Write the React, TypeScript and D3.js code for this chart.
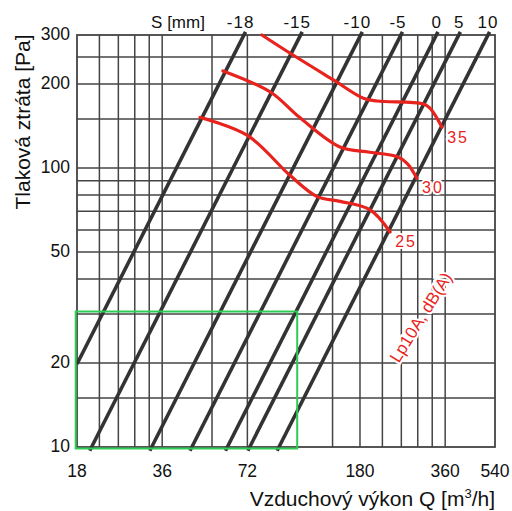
import React from "react";
import * as d3 from "d3";

const W = 512;
const H = 511;

// Axis ticks
const xTicks = [18, 36, 72, 180, 360, 540];
const yTicks = [10, 20, 50, 100, 200, 300];
// Grid lines (vertical in l/s, converted to m3/h)
const gridLs = [6, 7, 8, 9, 10, 15, 20, 40, 50, 60, 70, 80, 90, 100];
const gridPa = [15, 20, 30, 40, 50, 60, 70, 80, 90, 100, 150, 200, 250];
// Damper setting lines: S [mm] and flow (m3/h) at 300 Pa, P ~ Q^2
const sValues = [-18, -15, -10, -5, 0, 5, 10];
const qAt300 = [70, 111, 181, 251, 335, 402, 510];
// Noise curves Lp10A dB(A)
const noiseLevels = [35, 30, 25];
const noise35: [number, number][] = [[81, 300], [102, 258], [145, 207], [185, 178], [207, 174], [300, 170], [318, 164], [351, 140]];
const noise30: [number, number][] = [[59, 223], [87, 187], [110, 152], [153, 119], [195, 114], [243, 110], [264, 104], [286, 92]];
const noise25: [number, number][] = [[49, 152], [72, 131], [102, 94], [127, 79], [153, 76], [195, 71], [230, 59]];
const noiseCurves = [noise35, noise30, noise25];
// Highlighted range
const greenQ = [18, 108];
const greenP = [10, 30.6];

const FONT = "'Liberation Sans', Arial, Helvetica, sans-serif";
const GRID = "#444";
const RED = "#e8231e";

export default function App() {
  const x = d3.scaleLog().domain([18, 540]).range([77, 495]);
  const y = d3.scaleLog().domain([10, 300]).range([447, 35]);
  const line = d3
    .line<[number, number]>()
    .x((d) => x(d[0]))
    .y((d) => y(d[1]))
    .curve(d3.curveCatmullRom.alpha(0.5));

  const diag = qAt300.map((q300, i) => {
    const pLo = 9.7;
    const pHi = 308;
    let qLo = q300 * Math.sqrt(pLo / 300);
    let qHi = q300 * Math.sqrt(pHi / 300);
    qLo = Math.max(18, qLo);
    qHi = Math.min(540, qHi);
    const p1 = 300 * (qLo / q300) ** 2;
    const p2 = 300 * (qHi / q300) ** 2;
    return { s: sValues[i], x1: x(qLo), y1: y(p1), x2: x(qHi), y2: y(p2), xt: x(q300) };
  });

  const fs = 17;
  return (
    <svg width={W} height={H} style={{ position: "absolute", left: 0, top: 0, background: "#fff" }} fontFamily={FONT}>
      <rect x={0} y={0} width={W} height={H} fill="#fff" />
      {/* grid */}
      {gridLs.map((v) => (
        <line key={"v" + v} x1={x(v * 3.6)} x2={x(v * 3.6)} y1={y(10)} y2={y(300)} stroke={GRID} strokeWidth={1.5} />
      ))}
      {gridPa.map((v) => (
        <line key={"h" + v} x1={x(18)} x2={x(540)} y1={y(v)} y2={y(v)} stroke={GRID} strokeWidth={1.5} />
      ))}
      <rect x={x(18)} y={y(300)} width={x(540) - x(18)} height={y(10) - y(300)} fill="none" stroke={GRID} strokeWidth={1.8} />
      {/* diagonals */}
      {diag.map((d) => (
        <line key={"d" + d.s} x1={d.x1} y1={d.y1} x2={d.x2} y2={d.y2} stroke="#333" strokeWidth={3.6} />
      ))}
      {/* S labels */}
      <text x={178} y={28} fontSize={fs} textAnchor="middle" fill="#111">S [mm]</text>
      {diag.map((d) => {
        const digits = String(Math.abs(d.s)).length;
        return (
          <text key={"s" + d.s} x={d.xt + (digits * fs * 0.556) / 2 + 1} y={28} fontSize={fs} textAnchor="end" fill="#111" letterSpacing={1}>
            {d.s < 0 ? "-" + Math.abs(d.s) : String(d.s)}
          </text>
        );
      })}
      {/* green rectangle */}
      <rect
        x={x(greenQ[0]) - 1.3}
        y={y(greenP[1])}
        width={x(greenQ[1]) - x(greenQ[0]) + 1.3}
        height={y(greenP[0]) - y(greenP[1]) + 1.5}
        fill="none"
        stroke="#2ecc55"
        strokeWidth={2}
      />
      {/* noise curves */}
      {noiseCurves.map((c, i) => (
        <path key={"n" + i} d={line(c) || ""} fill="none" stroke={RED} strokeWidth={3.2} strokeLinecap="round" />
      ))}
      {noiseCurves.map((c, i) => {
        const last = c[c.length - 1];
        return (
          <text
            key={"nl" + i}
            x={x(last[0]) + 16}
            y={y(last[1]) + 11}
            fontSize={16}
            textAnchor="middle"
            dominantBaseline="middle"
            fill={RED}
            letterSpacing={2}
            stroke="#fff"
            strokeWidth={4}
            paintOrder="stroke"
          >
            {noiseLevels[i]}
          </text>
        );
      })}
      <text
        transform={`translate(${x(298)},${y(29)}) rotate(-58)`}
        fontSize={17}
        textAnchor="middle"
        dominantBaseline="middle"
        fill={RED}
        stroke="#fff"
        strokeWidth={4}
        paintOrder="stroke"
      >
        Lp10A, dB(A)
      </text>
      {/* axis tick labels */}
      {yTicks.map((v) => (
        <text key={"yt" + v} x={70} y={y(v)} fontSize={17.5} textAnchor="end" dominantBaseline="middle" fill="#111">
          {v}
        </text>
      ))}
      {xTicks.map((v) => (
        <text key={"xt" + v} x={x(v)} y={477} fontSize={17.5} textAnchor="middle" fill="#111">
          {v}
        </text>
      ))}
      {/* axis titles */}
      <text x={495} y={506} fontSize={21} textAnchor="end" fill="#111">
        Vzduchový výkon Q [m<tspan fontSize={13} dy={-8}>3</tspan><tspan dy={8}>/h]</tspan>
      </text>
      <text transform={`translate(30,${122})rotate(-90)`} fontSize={21} textAnchor="middle" fill="#111">
        Tlaková ztráta [Pa]
      </text>
    </svg>
  );
}
